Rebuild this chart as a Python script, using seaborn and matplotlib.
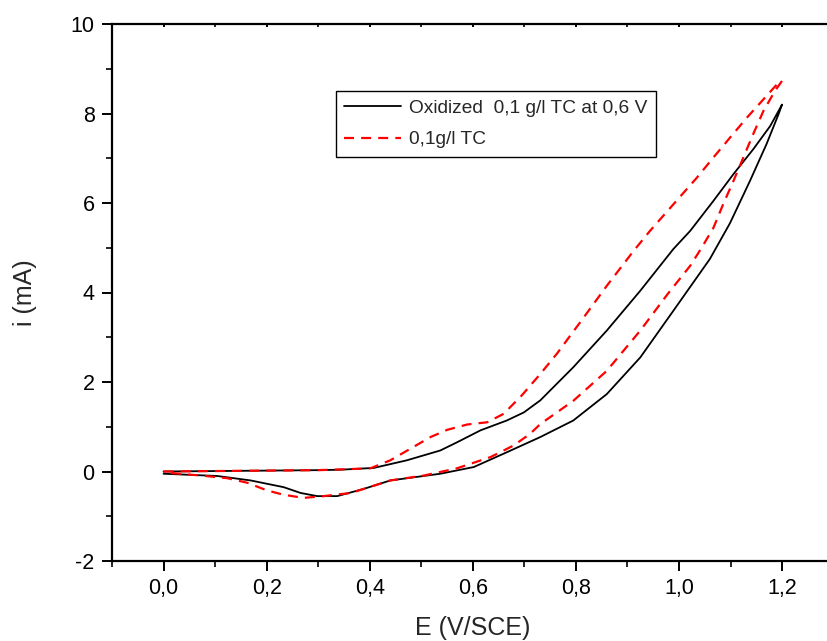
import numpy as np
import pandas as pd
import matplotlib
matplotlib.use("Agg")
import matplotlib.pyplot as plt
from matplotlib.ticker import MultipleLocator, FuncFormatter
import seaborn as sns

# Cyclic voltammograms: forward branch (E rising) then return branch (E falling)
ox_fwd_E = [0.0, 0.1, 0.2, 0.3, 0.343, 0.408, 0.472, 0.537, 0.569, 0.615, 0.666,
            0.699, 0.731, 0.795, 0.86, 0.925, 0.989, 1.022, 1.067, 1.106, 1.144,
            1.177, 1.2]
ox_fwd_i = [0.0, 0.01, 0.02, 0.03, 0.04, 0.08, 0.25, 0.47, 0.65, 0.92, 1.14,
            1.32, 1.59, 2.33, 3.15, 4.04, 4.97, 5.38, 6.05, 6.65, 7.2,
            7.72, 8.2]
ox_rev_E = [1.2, 1.193, 1.17, 1.138, 1.099, 1.06, 0.989, 0.925, 0.86, 0.795,
            0.731, 0.666, 0.602, 0.537, 0.44, 0.388, 0.337, 0.298, 0.266, 0.233,
            0.169, 0.104, 0.0]
ox_rev_i = [8.2, 7.98, 7.32, 6.5, 5.55, 4.75, 3.59, 2.55, 1.73, 1.14,
            0.77, 0.43, 0.1, -0.05, -0.2, -0.39, -0.55, -0.55, -0.48, -0.35,
            -0.2, -0.1, -0.05]

tc_fwd_E = [0.0, 0.1, 0.2, 0.3, 0.401, 0.44, 0.479, 0.518, 0.55, 0.589, 0.628,
            0.66, 0.695, 0.731, 0.763, 0.808, 0.86, 0.912, 0.944, 1.035, 1.067,
            1.099, 1.132, 1.161, 1.19, 1.2]
tc_fwd_i = [0.0, 0.01, 0.02, 0.03, 0.07, 0.25, 0.51, 0.77, 0.93, 1.05, 1.10,
            1.29, 1.7, 2.18, 2.63, 3.33, 4.15, 4.93, 5.38, 6.57, 7.02,
            7.46, 7.91, 8.28, 8.65, 8.73]
tc_rev_E = [1.2, 1.186, 1.164, 1.144, 1.125, 1.106, 1.086, 1.067, 1.044, 1.022,
            0.977, 0.925, 0.86, 0.795, 0.731, 0.711, 0.679, 0.634, 0.569, 0.505,
            0.44, 0.388, 0.363, 0.311, 0.272, 0.233, 0.2, 0.162, 0.124, 0.072,
            0.0]
tc_rev_i = [8.73, 8.5, 8.06, 7.54, 7.02, 6.5, 5.98, 5.45, 5.0, 4.6,
            3.95, 3.15, 2.25, 1.58, 1.06, 0.84, 0.58, 0.32, 0.07, -0.09,
            -0.2, -0.39, -0.48, -0.55, -0.59, -0.52, -0.42, -0.25, -0.15, -0.09,
            -0.02]

label_ox = "Oxidized  0,1 g/l TC at 0,6 V"
label_tc = "0,1g/l TC"

ox = pd.DataFrame({"E": ox_fwd_E + ox_rev_E, "i": ox_fwd_i + ox_rev_i})
tc = pd.DataFrame({"E": tc_fwd_E + tc_rev_E, "i": tc_fwd_i + tc_rev_i})

sns.set_theme(style="ticks")
plt.rcParams["font.family"] = ["Liberation Sans", "DejaVu Sans"]

fig = plt.figure(figsize=(8.27, 6.41), dpi=100)
ax = fig.add_axes([112 / 827, 80 / 641, 721.6 / 827, 537 / 641])

sns.lineplot(data=ox, x="E", y="i", sort=False, estimator=None, ax=ax,
             color="black", linewidth=1.3, label=label_ox)
sns.lineplot(data=tc, x="E", y="i", sort=False, estimator=None, ax=ax,
             color="#ff0000", linewidth=1.6, linestyle=(0, (4.5, 3.2)),
             label=label_tc)

ax.set_xlim(-0.1, 1.3)
ax.set_ylim(-2, 10)
ax.xaxis.set_major_locator(MultipleLocator(0.2))
ax.xaxis.set_minor_locator(MultipleLocator(0.1))
ax.yaxis.set_major_locator(MultipleLocator(2))
ax.yaxis.set_minor_locator(MultipleLocator(1))
ax.xaxis.set_major_formatter(FuncFormatter(lambda v, p: f"{v:.1f}".replace(".", ",").replace("-0,0", "0,0")))
ax.yaxis.set_major_formatter(FuncFormatter(lambda v, p: f"{v:.0f}"))

for s in ax.spines.values():
    s.set_linewidth(1.6)
    s.set_color("black")

ax.tick_params(axis="both", which="major", direction="out", length=7.5, width=1.4,
               labelsize=15.5, pad=5, colors="black")
ax.tick_params(axis="both", which="minor", direction="out", length=4, width=1.4)
ax.tick_params(axis="x", which="both", top=True, labeltop=False)
ax.tick_params(axis="y", which="both", right=False)
for t in ax.xaxis.get_major_ticks() + ax.xaxis.get_minor_ticks():
    t.tick2line.set_markersize(2.5)
    t.tick2line.set_marker(3)  # short inward ticks along the top spine

ax.set_xlabel("E (V/SCE)", fontsize=18, labelpad=12)
ax.set_ylabel("i (mA)", fontsize=18, labelpad=24)

leg = ax.legend(loc="upper left", bbox_to_anchor=(0.310, 0.875), borderaxespad=0,
                fontsize=13.8, frameon=True, fancybox=False, shadow=False,
                handlelength=2.95, handletextpad=0.42, labelspacing=0.72,
                borderpad=0.45)
leg.get_frame().set_edgecolor("black")
leg.get_frame().set_linewidth(1.0)
leg.get_frame().set_facecolor("white")
leg.get_frame().set_alpha(1)

fig.savefig("out.png", dpi=100)
